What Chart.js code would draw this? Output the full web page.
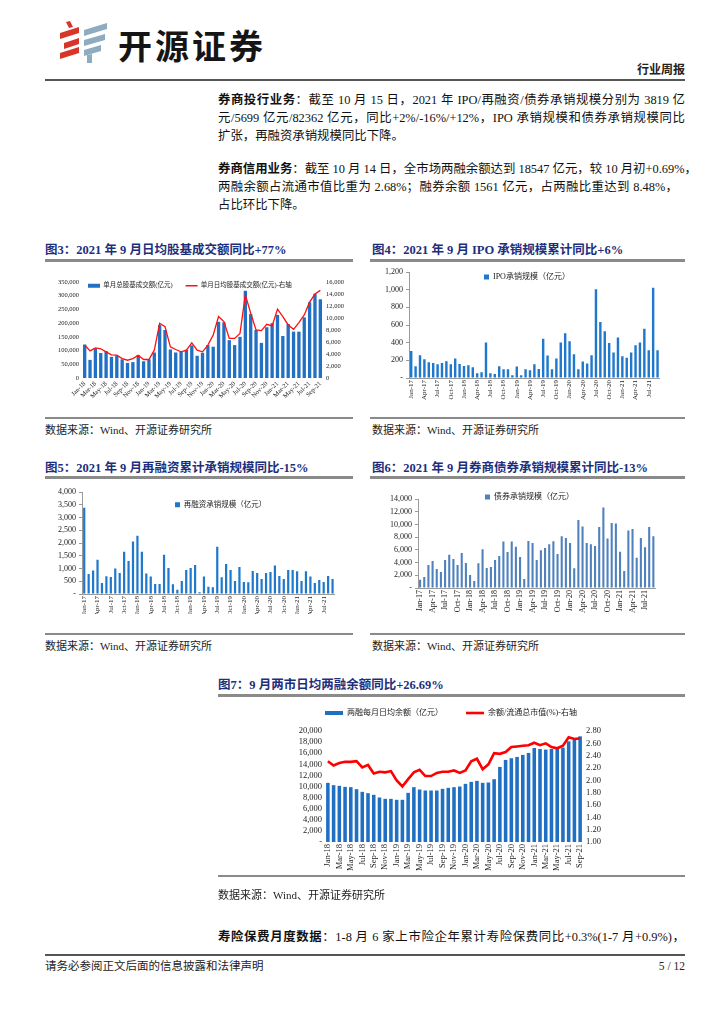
<!DOCTYPE html>
<html lang="zh-CN"><head><meta charset="utf-8">
<script src="https://cdn.jsdelivr.net/npm/chart.js@4.4.1/dist/chart.umd.min.js"></script>
<style>
html,body{margin:0;padding:0}
body{width:724px;height:1024px;position:relative;background:#fff;font-family:"Liberation Serif","Noto Sans CJK SC",serif;color:#111;overflow:hidden}
.ln{position:absolute;left:218px;width:467px;font-size:12.4px;line-height:18px;white-space:nowrap}
.j{text-align:justify;text-align-last:justify}
.ttl{position:absolute;font-size:12.5px;line-height:16px;font-weight:bold;color:#1d2f7c;white-space:nowrap}
.rule{position:absolute;background:#8a8a8a}
.src{position:absolute;font-size:11px;line-height:14px;color:#222;white-space:nowrap}
.cw{position:absolute}
</style></head><body>

<!-- header -->
<svg style="position:absolute;left:0;top:0" width="120" height="70">
  <g fill="#d8352a">
    <polygon points="66,22 70,21 73,27 69,28"/>
    <polygon points="60,33 79,27 79,33 60,39"/>
    <polygon points="64,43 79,38 79,44 64,49"/>
    <polygon points="60,53 79,47 79,53 60,59"/>
  </g>
  <g fill="#8fabc0">
    <polygon points="84,30 107,23 107,29 84,36"/>
    <polygon points="84,40 105,34 105,40 84,46"/>
    <polygon points="84,50 101,45 101,51 84,56"/>
    <polygon points="87,55 92,54 92,63 87,63"/>
  </g>
</svg>
<div style="position:absolute;left:118px;top:22px;font-family:'Noto Sans CJK SC';font-weight:bold;font-size:34px;line-height:46px;letter-spacing:3px;color:#151515">开源证券</div>
<div style="position:absolute;right:39px;top:62px;font-size:12px;line-height:16px;font-weight:bold;color:#222">行业周报</div>
<div class="rule" style="left:45px;top:79px;width:640px;height:2px;background:#555"></div>

<!-- body text -->
<div class="ln j" style="top:91px"><b>券商投行业务</b>：截至 10 月 15 日，2021 年 IPO/再融资/债券承销规模分别为 3819 亿</div>
<div class="ln j" style="top:109px">元/5699 亿元/82362 亿元，同比+2%/-16%/+12%，IPO 承销规模和债券承销规模同比</div>
<div class="ln" style="top:127px">扩张，再融资承销规模同比下降。</div>
<div class="ln j" style="top:160px"><b>券商信用业务</b>：截至 10 月 14 日，全市场两融余额达到 18547 亿元，较 10 月初+0.69%，</div>
<div class="ln j" style="top:178px;width:460px">两融余额占流通市值比重为 2.68%；融券余额 1561 亿元，占两融比重达到 8.48%，</div>
<div class="ln" style="top:196px">占比环比下降。</div>

<!-- titles row 1 -->
<div class="ttl" style="left:45px;top:242px">图3：2021 年 9 月日均股基成交额同比+77%</div>
<div class="ttl" style="left:372px;top:242px">图4：2021 年 9 月 IPO 承销规模累计同比+6%</div>
<div class="rule" style="left:45px;top:259px;width:308px;height:3px"></div>
<div class="rule" style="left:370px;top:259px;width:315px;height:3px"></div>

<div class="cw" style="left:45px;top:272px;width:300px;height:142px"><canvas id="c3"></canvas></div>
<div class="cw" style="left:368px;top:262px;width:300px;height:152px"><canvas id="c4"></canvas></div>

<div class="rule" style="left:45px;top:417px;width:308px;height:2px"></div>
<div class="rule" style="left:370px;top:417px;width:315px;height:2px"></div>
<div class="src" style="left:45px;top:423px">数据来源：Wind、开源证券研究所</div>
<div class="src" style="left:372px;top:423px">数据来源：Wind、开源证券研究所</div>

<!-- titles row 2 -->
<div class="ttl" style="left:45px;top:460px">图5：2021 年 9 月再融资累计承销规模同比-15%</div>
<div class="ttl" style="left:372px;top:460px">图6：2021 年 9 月券商债券承销规模累计同比-13%</div>
<div class="rule" style="left:45px;top:476px;width:308px;height:3px"></div>
<div class="rule" style="left:370px;top:476px;width:315px;height:3px"></div>

<div class="cw" style="left:43px;top:482px;width:300px;height:140px"><canvas id="c5"></canvas></div>
<div class="cw" style="left:378px;top:489px;width:287px;height:132px"><canvas id="c6"></canvas></div>

<div class="rule" style="left:45px;top:633px;width:308px;height:2px"></div>
<div class="rule" style="left:370px;top:633px;width:315px;height:2px"></div>
<div class="src" style="left:45px;top:639px">数据来源：Wind、开源证券研究所</div>
<div class="src" style="left:372px;top:639px">数据来源：Wind、开源证券研究所</div>

<!-- fig 7 -->
<div class="ttl" style="left:218px;top:677px">图7：9 月两市日均两融余额同比+26.69%</div>
<div class="rule" style="left:218px;top:694px;width:467px;height:3px"></div>
<div class="cw" style="left:288px;top:700px;width:324px;height:179px"><canvas id="c7"></canvas></div>
<div class="rule" style="left:218px;top:875px;width:467px;height:2px"></div>
<div class="src" style="left:218px;top:888px">数据来源：Wind、开源证券研究所</div>

<div class="ln j" style="top:928px"><b>寿险保费月度数据</b>：1-8 月 6 家上市险企年累计寿险保费同比+0.3%(1-7 月+0.9%)，</div>

<!-- footer -->
<div class="rule" style="left:45px;top:954px;width:640px;height:2px;background:#555"></div>
<div class="src" style="left:45px;top:959px;font-size:11.5px">请务必参阅正文后面的信息披露和法律声明</div>
<div class="src" style="right:39px;top:959px;font-size:11.5px">5 / 12</div>

<script>
// ---------- data ----------
const labels17 = ['Jan-17','Feb-17','Mar-17','Apr-17','May-17','Jun-17','Jul-17','Aug-17','Sep-17','Oct-17','Nov-17','Dec-17',
  'Jan-18','Feb-18','Mar-18','Apr-18','May-18','Jun-18','Jul-18','Aug-18','Sep-18','Oct-18','Nov-18','Dec-18',
  'Jan-19','Feb-19','Mar-19','Apr-19','May-19','Jun-19','Jul-19','Aug-19','Sep-19','Oct-19','Nov-19','Dec-19',
  'Jan-20','Feb-20','Mar-20','Apr-20','May-20','Jun-20','Jul-20','Aug-20','Sep-20','Oct-20','Nov-20','Dec-20',
  'Jan-21','Feb-21','Mar-21','Apr-21','May-21','Jun-21','Jul-21','Aug-21','Sep-21'];
const labels18 = labels17.slice(12);

const turnoverTotal = [122000,66000,108000,91000,98000,77000,82000,68000,55000,58000,83000,61000,
  68000,93000,193000,175000,104000,93000,95000,103000,119000,81000,92000,120000,
  114000,205000,203000,138000,120000,150000,318000,233000,175000,128000,185000,200000,
  230000,153000,197000,169000,169000,221000,276000,307000,287000];
const turnoverDaily = [5500,4530,5030,4870,4360,3860,3800,3240,2960,3240,3800,3080,
  3080,4640,9120,8560,5200,4750,4360,4640,5870,4640,4360,5480,
  7160,10240,9400,6600,6600,7440,13870,10800,8000,7890,8950,8670,
  11470,10240,8840,8110,9230,10520,12640,13990,14600];

const ipoValues = [307,133,258,212,178,171,156,171,190,156,220,159,
  137,144,121,53,65,402,53,46,133,99,99,30,
  129,30,99,87,156,102,444,254,99,220,402,508,
  417,269,99,186,163,258,1006,634,528,395,288,459,
  247,228,288,372,402,557,315,1021,315];

const refinValues = [3386,787,918,1339,433,696,669,997,827,1654,1299,2060,
  2283,1654,800,682,394,394,1535,1024,381,171,512,945,
  1024,1142,66,682,289,262,1850,656,1181,945,512,1063,
  472,459,906,827,591,827,866,1115,709,591,945,945,
  892,512,892,682,433,551,472,709,591];

const bondValues = [1312,1732,3622,4252,2992,2520,4409,5249,4567,3622,5512,3937,
  2047,1102,3885,6089,3150,3307,4409,5039,7297,5669,7297,6509,
  4882,1417,7402,7087,4409,5932,6299,6877,7349,5354,8136,7874,
  7087,3097,10708,9658,7087,6877,6614,9606,12651,7769,10236,10131,
  5722,2677,9028,9291,4777,7874,6404,9606,8136];

const marginBalance = [10660,10240,10120,9940,9880,9520,9040,8800,8500,8020,7780,7780,
  7600,7600,8860,9880,9460,9280,9280,9280,9580,9760,9880,10000,
  10480,10840,11020,10660,10720,11320,13530,14790,15090,15330,15690,16050,
  16950,16770,16650,16770,16770,17010,18140,18440,19040];
const marginRatio = [2.31,2.24,2.28,2.30,2.30,2.31,2.21,2.25,2.11,2.14,2.13,2.15,
  2.00,1.90,2.02,2.13,2.17,2.07,2.07,2.12,2.14,2.14,2.16,2.12,
  2.16,2.31,2.35,2.18,2.26,2.44,2.43,2.46,2.54,2.55,2.56,2.57,
  2.61,2.57,2.60,2.54,2.52,2.56,2.70,2.67,2.68];

// ---------- helpers ----------
Chart.defaults.animation = false;
Chart.defaults.font.family = "'Liberation Serif','Noto Sans CJK SC',serif";
Chart.defaults.color = '#222';

// moves the (zero-height) legend box to where the reference draws its legend
Chart.register({
  id: 'legendShift',
  afterLayout(chart, args, o) {
    const l = chart.legend; if (!l) return;
    const dx = o.dx || 0, dy = o.dy || 0;
    l.left += dx; l.right = l.left + 1000;
    l.top += dy; l.bottom = l.top + 80;
  }
});

const comma = v => v.toLocaleString('en-US');
const dashComma = v => v === 0 ? '-' : v.toLocaleString('en-US');

function xAxis(h, every, rot, size, border) {
  return {
    type: 'category', offset: true,
    grid: { display: false, drawTicks: false, tickLength: 0 },
    border: { display: border, color: '#9a9a9a' },
    ticks: { autoSkip: false, maxRotation: rot, minRotation: rot, padding: 2, font: { size }, color: '#222',
      callback(v, i) { return i % every === 0 ? this.getLabelForValue(v) : ''; } },
    afterFit: s => { s.height = h; }
  };
}
function yAxis(pos, max, step, w, fmt, size, border, min) {
  return {
    type: 'linear', position: pos, min: min || 0, max,
    grid: { display: border, drawOnChartArea: false, drawTicks: border, tickLength: 3, color: '#9a9a9a' },
    border: { display: border, color: '#9a9a9a' },
    ticks: { stepSize: step, autoSkip: false, padding: 3, font: { size }, color: '#222', callback: fmt },
    afterFit: s => { s.width = w; }
  };
}
function legendOpts(size, pad, psw, bh, dx, dy) {
  return {
    legend: { position: 'top', align: 'start', maxHeight: 0.01,
      labels: { usePointStyle: true, pointStyleWidth: psw, boxHeight: bh, padding: pad,
        font: { size, family: "'Liberation Serif','Noto Sans CJK SC',serif" }, color: '#222',
        sort: (a, b) => a.datasetIndex - b.datasetIndex } },
    tooltip: { enabled: false },
    legendShift: { dx, dy }
  };
}
function opts(padding, plugins, scales) {
  return { responsive: true, maintainAspectRatio: false, animation: false, events: [],
    layout: { padding }, plugins, scales };
}

// ---------- Fig 3 ----------
new Chart(document.getElementById('c3'), {
  type: 'bar',
  data: { labels: labels18, datasets: [
    { type: 'bar', label: '单月总股基成交额(亿元)', data: turnoverTotal, backgroundColor: '#2170c4',
      yAxisID: 'y', order: 1, barPercentage: 0.62, categoryPercentage: 1, pointStyle: 'rect' },
    { type: 'line', label: '单月日均股基成交额(亿元)-右轴', data: turnoverDaily, borderColor: '#ff1010',
      borderWidth: 1.3, pointRadius: 0, tension: 0, yAxisID: 'y1', order: 0, pointStyle: 'line' }
  ]},
  options: opts({ top: 10, right: 0, bottom: 8, left: 0 }, legendOpts(6.5, 13, 12, 4, 30, -12.5), {
    x: xAxis(28, 2, 45, 6.5, false),
    y: yAxis('left', 350000, 50000, 37, comma, 6.5, false),
    y1: yAxis('right', 16000, 2000, 22, comma, 6.5, false)
  })
});

// ---------- Fig 4 ----------
new Chart(document.getElementById('c4'), {
  type: 'bar',
  data: { labels: labels17, datasets: [
    { label: 'IPO承销规模（亿元）', data: ipoValues, backgroundColor: '#1f78cc',
      barPercentage: 0.55, categoryPercentage: 1, pointStyle: 'rect' }
  ]},
  options: opts({ top: 10, right: 6, bottom: 8, left: 0 }, legendOpts(8, 2, 5, 5, 114, -1), {
    x: xAxis(28, 3, 90, 7, true),
    y: yAxis('left', 1200, 200, 41, dashComma, 8, true)
  })
});

// ---------- Fig 5 ----------
new Chart(document.getElementById('c5'), {
  type: 'bar',
  data: { labels: labels17, datasets: [
    { label: '再融资承销规模（亿元）', data: refinValues, backgroundColor: '#1f78cc',
      barPercentage: 0.5, categoryPercentage: 1, pointStyle: 'rect' }
  ]},
  options: opts({ top: 10, right: 4, bottom: 8, left: 0 }, legendOpts(7.5, 2, 5, 5, 130, 7), {
    x: xAxis(20, 3, 90, 7, true),
    y: yAxis('left', 4000, 500, 39, dashComma, 8, true)
  })
});

// ---------- Fig 6 ----------
new Chart(document.getElementById('c6'), {
  type: 'bar',
  data: { labels: labels17, datasets: [
    { label: '债券承销规模（亿元）', data: bondValues, backgroundColor: '#4f81bd',
      barPercentage: 0.5, categoryPercentage: 1, pointStyle: 'rect' }
  ]},
  options: opts({ top: 10, right: 4, bottom: 8, left: 0 }, legendOpts(8, 2, 5, 5, 105, -8), {
    x: xAxis(25, 3, 90, 8, true),
    y: yAxis('left', 14000, 2000, 40, dashComma, 8, true)
  })
});

// ---------- Fig 7 ----------
new Chart(document.getElementById('c7'), {
  type: 'bar',
  data: { labels: labels18, datasets: [
    { type: 'bar', label: '两融每月日均余额（亿元）', data: marginBalance, backgroundColor: '#1f6fc3',
      yAxisID: 'y', order: 1, barPercentage: 0.62, categoryPercentage: 1, pointStyle: 'rect' },
    { type: 'line', label: '余额/流通总市值(%)-右轴', data: marginRatio, borderColor: '#ff0000',
      borderWidth: 2.6, pointRadius: 0, tension: 0, yAxisID: 'y1', order: 0, pointStyle: 'line' }
  ]},
  options: opts({ top: 31, right: 0, bottom: 8, left: 0 }, legendOpts(8, 23, 18, 4, 14, -45), {
    x: xAxis(29, 2, 90, 8.5, false),
    y: yAxis('left', 20000, 2000, 37, dashComma, 8.5, false),
    y1: yAxis('right', 2.8, 0.2, 29, v => v.toFixed(2), 8.5, false, 1.0)
  })
});
</script>
</body></html>
